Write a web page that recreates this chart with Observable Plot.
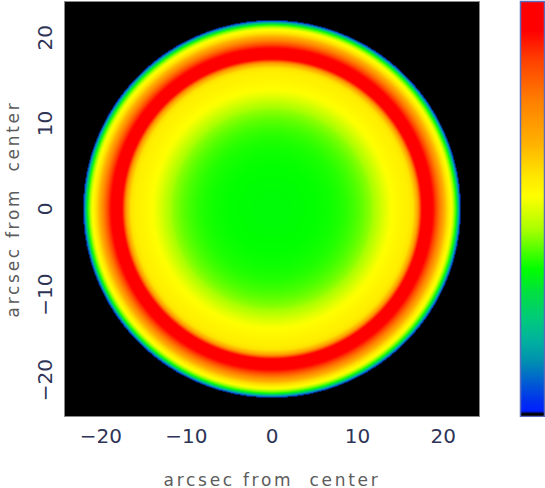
<!DOCTYPE html>
<html>
<head>
<meta charset="utf-8">
<script src="https://cdn.jsdelivr.net/npm/d3@7"></script>
<script src="https://cdn.jsdelivr.net/npm/@observablehq/plot@0.6"></script>
<style>
html, body { margin: 0; padding: 0; background: #fff; }
#wrap { position: relative; width: 545px; height: 488px; }
#wrap > svg { position: absolute; left: 0; top: 0; }
#wrap > svg.bar { left: 519px; top: 0; }
</style>
</head>
<body>
<div id="wrap"></div>
<script>
// ---- data ----
const xTicks = [-20, -10, 0, 10, 20];
const yTicks = [-20, -10, 0, 10, 20];
const extent = [-24.25, 24.25];           // arcsec shown on each axis
const diskRadius = 22.05;                 // arcsec, outer edge of the disk
const axisTitle = "arcsec from\u00a0 center";

// radial brightness profile (colour-bar fraction) vs radius in arcsec
const profileRadius = [0, 0.5, 1, 1.5, 2, 2.5, 3, 3.5, 4, 4.5, 5, 5.5, 6, 6.5, 7, 7.5, 8, 8.5, 9, 9.5,
  10, 10.5, 11, 11.5, 12, 12.5, 13, 13.5, 14, 14.5, 15, 15.5, 16, 16.5, 17, 17.5, 18, 18.5, 19, 19.5,
  20, 20.5, 21, 21.5, 22];
const profileValue = [0.350, 0.350, 0.350, 0.350, 0.350, 0.351, 0.352, 0.353, 0.354, 0.355, 0.356, 0.358, 0.360, 0.362, 0.365, 0.368, 0.372, 0.377, 0.384, 0.391,
  0.400, 0.410, 0.422, 0.435, 0.455, 0.475, 0.495, 0.515, 0.530, 0.540, 0.548, 0.555, 0.562, 0.585, 0.680, 0.930, 1.000, 0.975, 0.890, 0.790,
  0.690, 0.595, 0.525, 0.380, 0.050];

// colour table (fraction of the colour bar -> colour)
const colorStops = [0, 0.007, 0.012, 0.036, 0.085, 0.133, 0.18, 0.23, 0.30, 0.355, 0.45, 0.53, 0.58, 0.66, 0.76, 0.86, 0.93, 1];
const colorRamp = ["#000000", "#000000", "#0020ff", "#0030f0", "#0060d0", "#0090b0", "#00b0a0", "#00c880", "#00e040", "#00ff00",
  "#a8ff00", "#ffff00", "#ffe600", "#ffb000", "#ff8000", "#ff4000", "#ff0000", "#ff0000"];

// ---- drawing ----
const profile = d3.scaleLinear().domain(profileRadius).range(profileValue).clamp(true);
const brightness = (x, y) => {
  const r = Math.hypot(x, y);
  return r <= diskRadius ? profile(r) : 0;
};

const color = {type: "linear", domain: colorStops, range: colorRamp, interpolate: "rgb"};
const tickColor = "#2e3456";
const titleColor = "#5c5c5c";

const main = Plot.plot({
  width: 545, height: 488,
  marginLeft: 64, marginRight: 66, marginTop: 1, marginBottom: 72,
  x: {domain: extent},
  y: {domain: extent},
  color,
  style: {fontFamily: "DejaVu Sans", background: "transparent", overflow: "visible"},
  marks: [
    Plot.raster({x1: extent[0], x2: extent[1], y1: extent[0], y2: extent[1], width: 415, height: 415,
      fill: brightness}),
    Plot.frame({stroke: "#8a8a8a"}),
    Plot.axisX({ticks: xTicks, tickSize: 0, tickPadding: 12, fontSize: 20, fill: tickColor, label: null}),
    Plot.axisY({ticks: yTicks, tickSize: 0, tickPadding: 13, fontSize: 20, fill: tickColor, label: null,
      rotate: -90, textAnchor: "middle", lineAnchor: "bottom"}),
    Plot.text([axisTitle], {text: (d) => d, frameAnchor: "bottom", dy: 69, lineAnchor: "bottom",
      textAnchor: "middle", fontSize: 17, fill: titleColor}),
    Plot.text([axisTitle], {text: (d) => d, frameAnchor: "left", dx: -46, rotate: -90, lineAnchor: "bottom",
      textAnchor: "middle", fontSize: 17, fill: titleColor})
  ]
});

d3.select(main).selectAll("text")
  .filter(function () { return this.textContent === axisTitle; })
  .style("letter-spacing", "2.7px");

const bar = Plot.plot({
  width: 26, height: 417,
  marginTop: 1, marginBottom: 1, marginLeft: 1, marginRight: 1,
  x: {domain: [0, 1], axis: null},
  y: {domain: [0, 1], axis: null},
  color,
  style: {background: "transparent"},
  marks: [
    Plot.raster({x1: 0, x2: 1, y1: 0, y2: 1, width: 1, height: 414, fill: (x, y) => y}),
    Plot.frame({stroke: "#5a6cc0", strokeWidth: 1.5})
  ]
});
bar.classList.add("bar");

document.getElementById("wrap").append(main, bar);
</script>
</body>
</html>
